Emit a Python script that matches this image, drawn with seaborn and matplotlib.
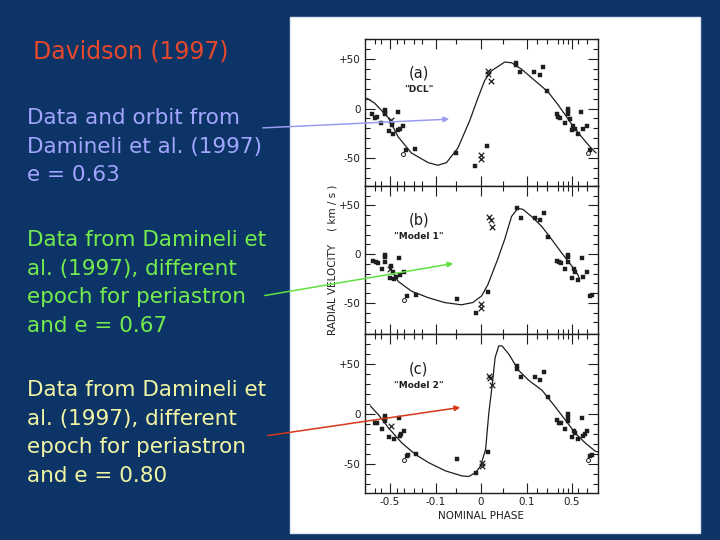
import matplotlib
matplotlib.use("Agg")
import matplotlib.pyplot as plt
from matplotlib.patches import Rectangle, FancyArrowPatch
import seaborn as sns
import pandas as pd

# nominal phase is drawn on a stretched axis: display units -2..2 carry the labels below
phase_ticks = [-2, -1, 0, 1, 2]
phase_labels = ["-0.5", "-0.1", "0", "0.1", "0.5"]
phase_minor = [-2.33, -2.19, -1.85, -1.70, -1.48, -1.30, -0.54, 0.49,
               1.22, 1.44, 1.70, 1.81, 1.92, 2.14, 2.32]
vel_ticks = [-50, 0, 50]
vel_labels = ["-50", "0", "+50"]

# ---- panel (a) "DCL"
a_sq_u = [-2.39, -2.32, -2.28, -2.12, -2.12, -2.12, -2.19, -2.03, -1.93, -1.96, -1.82, -1.82,
          -1.78, -1.71, -1.64, -1.46, -0.55, -0.14, 0.13, 0.76, 0.77, 0.86, 1.16, 1.29, 1.36,
          1.45, 1.66, 1.69, 1.74, 1.84, 1.90, 1.90, 1.90, 1.95, 1.99, 2.03, 2.07, 2.12, 2.19,
          2.23, 2.32, 2.39]
a_sq_v = [-5.8, -9.1, -8.4, -1.0, -3.6, -5.8, -14.9, -23.1, -25.3, -16.2, -3.6, -22.1,
          -20.8, -17.2, -41.6, -40.3, -44.8, -58.1, -37.7, 46.1, 43.8, 36.4, 36.4, 33.8, 41.9,
          17.5, -5.8, -8.4, -9.1, -14.9, 0.0, -2.6, -5.8, -10.7, -22.1, -17.2, -20.5, -25.3, -3.6,
          -21.1, -17.5, -41.6]
a_x_u = [0.0, 0.0, 0.16, 0.16, 0.22, -1.97]
a_x_v = [-46.4, -50.7, 37.3, 34.7, 28.2, -12.0]
a_o_u = [-1.71, 2.34]
a_o_v = [-45.5, -44.8]
a_fit_u = [-2.51, -2.34, -2.04, -1.82, -1.53, -1.16, -0.95, -0.76, -0.51, -0.25, -0.07, 0.08,
           0.23, 0.52, 0.67, 0.89, 1.18, 1.47, 1.69, 1.99, 2.21, 2.42, 2.53]
a_fit_v = [10.4, 5.5, -9.1, -28.6, -44.8, -54.5, -57.1, -54.5, -39.9, -12.3, 10.4, 28.2,
           38.0, 46.8, 46.1, 39.6, 28.2, 16.9, 3.9, -15.6, -28.6, -39.9, -44.8]

# ---- panel (b) "Model 1"
b_sq_u = [-2.37, -2.31, -2.26, -2.17, -2.10, -2.10, -2.10, -1.97, -1.94, -2.01, -1.91, -1.87,
          -1.81, -1.77, -1.70, -1.63, -1.44, -0.53, -0.12, 0.15, 0.78, 0.87, 1.18, 1.30, 1.38,
          1.47, 1.67, 1.71, 1.76, 1.85, 1.91, 1.91, 1.91, 2.00, 2.04, 2.07, 2.13, 2.21, 2.24,
          2.33, 2.40, 2.44]
b_sq_v = [-6.7, -8.3, -9.0, -15.7, -1.0, -3.3, -7.7, -11.7, -18.3, -24.3, -26.0, -23.3,
          -4.3, -21.7, -18.3, -43.3, -41.7, -46.0, -60.0, -39.0, 47.7, 36.7, 37.3, 35.0, 42.3,
          17.3, -6.7, -8.3, -9.0, -15.7, -1.0, -3.3, -7.7, -24.3, -15.7, -18.3, -26.7, -4.3, -23.3,
          -18.3, -43.3, -41.7]
b_x_u = [0.0, 0.0, 0.18, 0.21, 0.23, -1.99]
b_x_v = [-51.0, -55.0, 38.3, 35.0, 28.3, -15.7]
b_o_u = [-1.69]
b_o_v = [-46.7]
b_fit_u = [-2.02, -1.82, -1.53, -1.16, -0.80, -0.43, -0.18, 0.01, 0.15, 0.37, 0.52, 0.67,
           0.81, 0.92, 1.11, 1.33, 1.55, 1.76, 1.98, 2.13, 2.16]
b_fit_v = [-12.0, -28.0, -38.0, -44.7, -49.7, -52.0, -49.7, -43.0, -31.3, -4.7, 15.3, 38.7,
           47.0, 46.0, 38.7, 28.7, 15.3, 2.0, -11.3, -21.3, -25.0]

# ---- panel (c) "Model 2"
c_sq_u = [-2.34, -2.29, -2.17, -2.12, -2.11, -2.10, -2.03, -1.91, -1.81, -1.79, -1.75, -1.70,
          -1.63, -1.60, -1.43, -0.53, -0.12, 0.15, 0.78, 0.78, 0.87, 1.18, 1.30, 1.38, 1.47,
          1.67, 1.71, 1.76, 1.85, 1.91, 1.91, 1.91, 1.99, 2.04, 2.06, 2.13, 2.21, 2.23, 2.29,
          2.33, 2.40, 2.44]
c_sq_v = [-8.6, -9.2, -14.8, -2.0, -4.3, -6.6, -23.0, -25.0, -4.3, -21.7, -20.1, -16.8,
          -41.5, -40.8, -40.1, -44.7, -58.6, -37.5, 47.7, 45.1, 36.8, 36.8, 34.2, 42.1, 17.1,
          -5.9, -8.6, -8.6, -14.8, -0.3, -3.3, -6.6, -23.0, -17.4, -19.1, -25.0, -4.3, -21.7, -20.1,
          -17.4, -41.5, -40.8]
c_x_u = [0.01, 0.01, 0.17, 0.19, 0.24, -1.97]
c_x_v = [-49.4, -52.0, 38.5, 36.2, 28.6, -11.8]
c_o_u = [-1.69, 2.35]
c_o_v = [-46.1, -46.1]
c_fit_u = [-2.43, -2.25, -2.03, -1.74, -1.44, -1.15, -0.78, -0.42, -0.27, -0.12, -0.01, 0.10,
           0.17, 0.24, 0.31, 0.39, 0.46, 0.61, 0.83, 1.05, 1.34, 1.63, 1.85, 2.07, 2.29, 2.51, 2.59]
c_fit_v = [7.9, -1.0, -14.1, -29.0, -40.5, -48.7, -56.9, -61.9, -62.5, -58.6, -52.0, -35.5,
           0.7, 27.0, 56.6, 68.1, 68.1, 59.9, 43.4, 33.6, 23.7, 7.2, -5.9, -19.1, -29.0, -37.2, -38.2]

panels = [
    ("(a)", '"DCL"', a_sq_u, a_sq_v, a_x_u, a_x_v, a_o_u, a_o_v, a_fit_u, a_fit_v, (-78, 65)),
    ("(b)", '"Model 1"', b_sq_u, b_sq_v, b_x_u, b_x_v, b_o_u, b_o_v, b_fit_u, b_fit_v, (-82, 66)),
    ("(c)", '"Model 2"', c_sq_u, c_sq_v, c_x_u, c_x_v, c_o_u, c_o_v, c_fit_u, c_fit_v, (-79, 80)),
]

navy = "#0c3466"
ink = "#1e1e1e"
W, H = 720.0, 540.0

sns.set_style("ticks")
plt.rcParams["font.family"] = ["DejaVu Sans"]

fig = plt.figure(figsize=(7.2, 5.4), dpi=100)
fig.patch.set_facecolor(navy)

# white scanned page on the right
fig.add_artist(Rectangle((290 / W, 1 - 533 / H), 410 / W, 516 / H, transform=fig.transFigure,
                         facecolor="white", edgecolor="#dfe8f2", lw=1, zorder=-1))

# axes rectangles in pixels (top, bottom)
boxes = [(39, 186), (186, 334), (334, 493)]
axes = []
for (top, bot), p in zip(boxes, panels):
    tag, name, squ, sqv, xu, xv, ou, ov, fu, fv, ylim = p
    ax = fig.add_axes([365 / W, 1 - bot / H, 233 / W, (bot - top) / H])
    ax.set_facecolor("white")
    sns.lineplot(x=fu, y=fv, ax=ax, color=ink, lw=0.9, sort=False, estimator=None)
    sns.scatterplot(x=squ, y=sqv, ax=ax, marker="s", s=12, color=ink, edgecolor=ink, linewidth=0.3)
    sns.scatterplot(x=xu, y=xv, ax=ax, marker="x", s=16, color=ink, linewidth=0.9)
    sns.scatterplot(x=ou, y=ov, ax=ax, marker="o", s=8, facecolor="white", edgecolor=ink, linewidth=0.7)
    ax.set_xlim(-2.55, 2.57)
    ax.set_ylim(*ylim)
    ax.set_xticks(phase_ticks)
    ax.set_xticks(phase_minor, minor=True)
    ax.set_yticks(vel_ticks)
    ax.set_yticks(list(range(-70, 80, 10)), minor=True)
    ax.set_yticklabels(vel_labels, fontsize=7.5, color=ink)
    ax.set_xticklabels([])
    ax.tick_params(which="both", direction="in", top=True, right=True, color=ink, width=0.8)
    ax.tick_params(which="major", length=7, pad=3)
    ax.tick_params(which="minor", length=3.5)
    for s in ax.spines.values():
        s.set_color(ink)
        s.set_linewidth(1.0)
    ax.set_xlabel("")
    ax.set_ylabel("")
    ax.text(0.23, 0.74 if tag != "(c)" else 0.75, tag, transform=ax.transAxes, fontsize=10.5,
            ha="center", color=ink)
    ax.text(0.23, 0.64 if tag != "(c)" else 0.66, name, transform=ax.transAxes, fontsize=6.5,
            ha="center", color=ink, fontweight="bold")
    axes.append(ax)

axes[2].set_xticklabels(phase_labels, fontsize=7.5, color=ink)
axes[2].set_xlabel("NOMINAL PHASE", fontsize=7.5, color=ink, labelpad=3)
axes[1].set_ylabel("RADIAL VELOCITY    ( km / s )", fontsize=7.5, color=ink, labelpad=1)

# slide text
fig.text(33 / W, 1 - 51 / H, "Davidson (1997)", color="#e6482c", fontsize=17, va="center")
blue_lines = ["Data and orbit from", "Damineli et al. (1997)", "e = 0.63"]
green_lines = ["Data from Damineli et", "al. (1997), different", "epoch for periastron", "and e = 0.67"]
yellow_lines = ["Data from Damineli et", "al. (1997), different", "epoch for periastron", "and e = 0.80"]
for i, t in enumerate(blue_lines):
    fig.text(27 / W, 1 - (118 + 28.5 * i) / H, t, color="#a3a6ff", fontsize=15.5, va="center")
for i, t in enumerate(green_lines):
    fig.text(27 / W, 1 - (240 + 28.5 * i) / H, t, color="#74ec4e", fontsize=15.5, va="center")
for i, t in enumerate(yellow_lines):
    fig.text(27 / W, 1 - (390 + 28.5 * i) / H, t, color="#f2f6a4", fontsize=15.5, va="center")

# pointers from the notes into the panels
arrows = [((260, 128), (452, 119), "#9a9cf0"),
          ((262, 296), (456, 263), "#62e040"),
          ((265, 436), (463, 407), "#d8381a")]
for (x0, y0), (x1, y1), col in arrows:
    fig.add_artist(FancyArrowPatch((x0 / W, 1 - y0 / H), (x1 / W, 1 - y1 / H),
                                   transform=fig.transFigure, arrowstyle="-|>",
                                   mutation_scale=8, color=col, lw=1.1, zorder=10))

fig.savefig("out.png", dpi=100, facecolor=navy)
